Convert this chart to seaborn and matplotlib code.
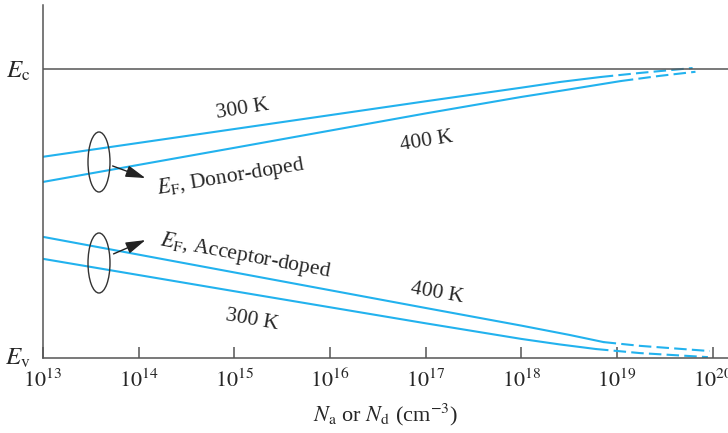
import numpy as np
import pandas as pd
import matplotlib
matplotlib.use("Agg")
import matplotlib.pyplot as plt
from matplotlib.patches import Ellipse, FancyArrowPatch
import seaborn as sns

# doping level as log10(N), energy as fraction of the gap (0 = Ev, 1 = Ec)
donor_300_logN = [13.0, 15.0, 17.0, 18.0, 18.41, 18.83]
donor_300_E = [0.696, 0.792, 0.888, 0.935, 0.955, 0.972]
donor_300_dash_logN = [18.83, 19.24, 19.79]
donor_300_dash_E = [0.972, 0.986, 1.003]

donor_400_logN = [13.0, 15.0, 17.0, 18.0, 18.5, 19.04]
donor_400_E = [0.609, 0.727, 0.846, 0.903, 0.929, 0.958]
donor_400_dash_logN = [19.04, 19.45, 19.82]
donor_400_dash_E = [0.958, 0.976, 0.990]

acc_400_logN = [13.0, 15.0, 17.0, 18.0, 18.5, 18.86]
acc_400_E = [0.419, 0.296, 0.173, 0.112, 0.080, 0.055]
acc_400_dash_logN = [18.86, 19.24, 19.97]
acc_400_dash_E = [0.055, 0.042, 0.024]

acc_300_logN = [13.0, 15.0, 17.0, 18.0, 18.4, 18.78]
acc_300_E = [0.343, 0.231, 0.120, 0.066, 0.047, 0.031]
acc_300_dash_logN = [18.78, 19.24, 19.95]
acc_300_dash_E = [0.031, 0.017, 0.003]

tick_exps = [13, 14, 15, 16, 17, 18, 19, 20]

sns.set_style("ticks")
plt.rcParams["font.family"] = ["Liberation Serif", "DejaVu Serif"]
plt.rcParams["mathtext.fontset"] = "stix"

W, H = 728, 433
fig = plt.figure(figsize=(W / 100, H / 100), dpi=100)
ax = fig.add_axes([43 / W, 1 - 358 / H, 1 - 43 / W, (358 - 5) / H])


def px(x, y):
    return x / W, 1 - y / H


blue = "#22b2ee"
ax.set_xscale("log")

segments = [
    (donor_300_logN, donor_300_E, "-"),
    (donor_300_dash_logN, donor_300_dash_E, "--"),
    (donor_400_logN, donor_400_E, "-"),
    (donor_400_dash_logN, donor_400_dash_E, "--"),
    (acc_400_logN, acc_400_E, "-"),
    (acc_400_dash_logN, acc_400_dash_E, "--"),
    (acc_300_logN, acc_300_E, "-"),
    (acc_300_dash_logN, acc_300_dash_E, "--"),
]
for logn, e, ls in segments:
    df = pd.DataFrame({"N": 10.0 ** np.array(logn), "E": e})
    line_style = "-" if ls == "-" else (0, (6, 2.5))
    sns.lineplot(data=df, x="N", y="E", ax=ax, color=blue, lw=1.5,
                 linestyle=line_style, estimator=None)

ax.axhline(1.0, color="#555555", lw=1.1)

ax.set_xlim(1e13, 10 ** 20.16)
ax.set_ylim(0, 1.221)
ax.set_xticks([10.0 ** e for e in tick_exps])
ax.set_xticklabels([f"$10^{{{e}}}$" for e in tick_exps], fontsize=16)
ax.minorticks_off()
ax.tick_params(axis="x", direction="in", length=8, width=1.1,
               color="#555555", pad=8)
ax.set_yticks([0, 1])
ax.set_yticklabels([r"$E_\mathrm{v}$", r"$E_\mathrm{c}$"], fontsize=18)
ax.tick_params(axis="y", length=0, pad=9)
ax.get_yticklabels()[0].set_va("center")

for s in ["top", "right"]:
    ax.spines[s].set_visible(False)
for s in ["left", "bottom"]:
    ax.spines[s].set_color("#555555")
    ax.spines[s].set_linewidth(1.1)

ax.set_xlabel(r"$N_\mathrm{a}$ or $N_\mathrm{d}$ (cm$^{-3}$)", fontsize=16,
              labelpad=7)
ax.set_ylabel("")

txt = dict(transform=fig.transFigure, fontsize=15.5, ha="center", va="center")
fig.text(*px(243, 109), "300 K", rotation=9, **txt)
fig.text(*px(427, 141), "400 K", rotation=9, **txt)
fig.text(*px(231, 177), r"$E_\mathrm{F}$, Donor-doped", rotation=9.5, **txt)
fig.text(*px(245, 256), r"$E_\mathrm{F}$, Acceptor-doped", rotation=-10.5, **txt)
fig.text(*px(437, 293), "400 K", rotation=-10, **txt)
fig.text(*px(252, 320), "300 K", rotation=-10, **txt)

for cy in (162, 263):
    fig.patches.append(Ellipse(px(99, cy), 22 / W, 60 / H, fill=False,
                               ec="#333333", lw=1.0,
                               transform=fig.transFigure))

arrow = dict(arrowstyle="-|>,head_length=1.0,head_width=0.3",
             color="#222222", lw=1.0)
fig.add_artist(FancyArrowPatch(px(110, 165), px(148, 179),
                               transform=fig.transFigure,
                               mutation_scale=12, **arrow))
fig.add_artist(FancyArrowPatch(px(111, 255), px(148, 239),
                               transform=fig.transFigure,
                               mutation_scale=12, **arrow))

fig.savefig("out.png", dpi=100)
